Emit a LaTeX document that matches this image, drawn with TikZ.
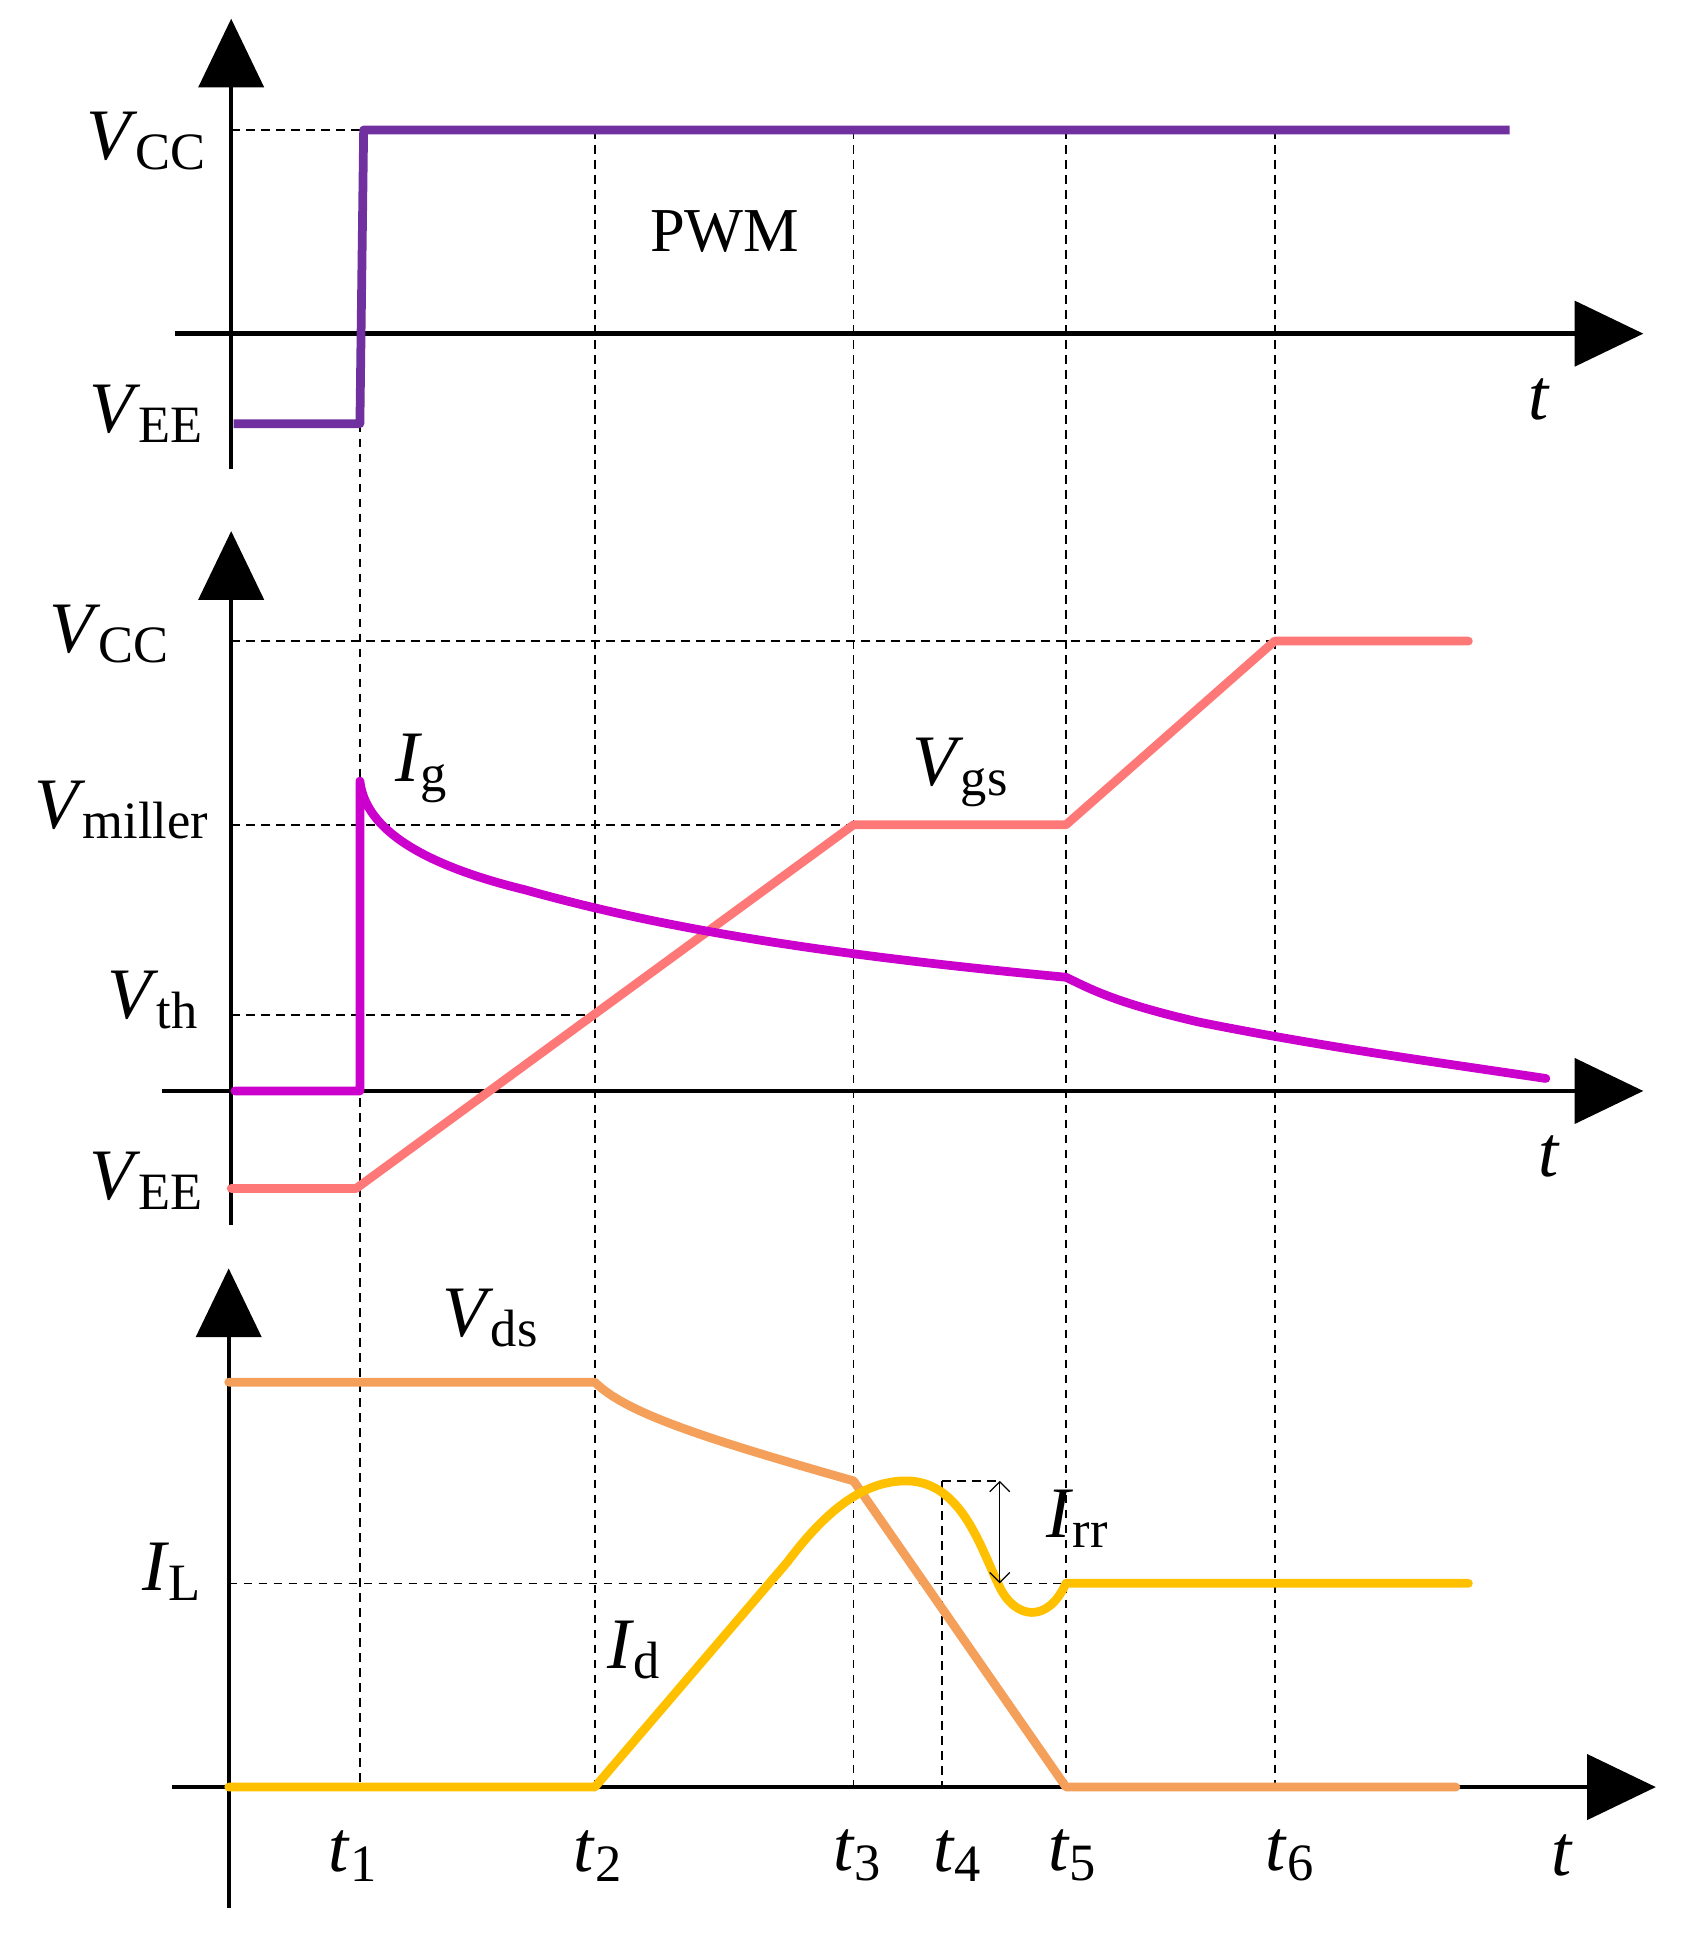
\documentclass[tikz,border=0pt]{standalone}
\usepackage{fontspec}
\setmainfont{Liberation Serif}
\usetikzlibrary{arrows.meta}
\begin{document}
\begin{tikzpicture}[x=1pt,y=-1pt,
  ax/.style={line width=3.5pt,-{Triangle[length=55pt,width=52pt]}},
  dsh/.style={dashed,line width=1.3pt,dash pattern=on 7pt off 5pt},
  wave/.style={line width=7pt,line join=round,line cap=round},
  lb/.style={font=\fontsize{58}{60}\selectfont,inner sep=0pt},
  tl/.style={font=\fontsize{58}{60}\selectfont,inner sep=0pt}]
\definecolor{pwm}{RGB}{112,48,160}
\definecolor{vgs}{RGB}{255,120,120}
\definecolor{ig}{RGB}{204,0,204}
\definecolor{vds}{RGB}{244,160,90}
\definecolor{idc}{RGB}{255,192,0}
\useasboundingbox (0,0) rectangle (1352,1562);
% dashed verticals
\draw[dsh] (288,339) -- (288,1430);
\foreach \x in {476,683,853,1020} \draw[dsh] (\x,104) -- (\x,1430);
\draw[dsh] (754,1185) -- (754,1430);
% panel 1
\draw[dsh] (185,104) -- (290,104);
\draw[ax] (185,375) -- (185,15);
\draw[ax] (140,267) -- (1315,267);
\draw[wave,pwm,line cap=butt] (187,339) -- (288,339) -- (291,104) -- (1208,104);
\node[lb] at (117,113) {\textit{V}\kern-2pt\raisebox{-0.3ex}{\fontsize{42}{44}\selectfont CC}};
\node[lb] at (117,331) {\textit{V}\kern-2pt\raisebox{-0.3ex}{\fontsize{42}{44}\selectfont EE}};
\node[font=\fontsize{50}{52}\selectfont] at (580,185) {PWM};
\node[tl] at (1232,320) {\textit{t}};
% panel 2
\draw[dsh] (185,513) -- (1020,513);
\draw[dsh] (185,660) -- (683,660);
\draw[dsh] (185,812) -- (476,812);
\draw[ax] (185,980) -- (185,425);
\draw[ax] (130,873) -- (1315,873);
\draw[wave,vgs] (185,951) -- (285,951) -- (683,660) -- (853,660) -- (1020,513) -- (1175,513);
\draw[wave,ig] (188,873) -- (288,873) -- (288,625) .. controls (292,660) and (330,690) .. (420,712)
  .. controls (520,740) and (640,762) .. (853,782)
  .. controls (870,790) and (890,802) .. (960,818)
  .. controls (1060,838) and (1150,850) .. (1237,863);
\node[lb] at (87,507) {\textit{V}\kern-2pt\raisebox{-0.3ex}{\fontsize{42}{44}\selectfont CC}};
\node[lb] at (97,648) {\textit{V}\kern-2pt\raisebox{-0.3ex}{\fontsize{42}{44}\selectfont miller}};
\node[lb] at (122,800) {\textit{V}\kern-2pt\raisebox{-0.3ex}{\fontsize{42}{44}\selectfont th}};
\node[lb] at (117,945) {\textit{V}\kern-2pt\raisebox{-0.3ex}{\fontsize{42}{44}\selectfont EE}};
\node[lb] at (337,615) {\textit{I}\kern-1pt\raisebox{-0.3ex}{\fontsize{42}{44}\selectfont g}};
\node[lb] at (768,618) {\textit{V}\kern-2pt\raisebox{-0.3ex}{\fontsize{42}{44}\selectfont gs}};
\node[tl] at (1240,925) {\textit{t}};
% panel 3
\draw[dsh] (183,1267) -- (853,1267);
\draw[dsh] (754,1185) -- (800,1185);
\draw[ax] (183,1527) -- (183,1015);
\draw[ax] (138,1430) -- (1325,1430);
\draw[wave,vds] (183,1106) -- (476,1106) .. controls (500,1130) and (560,1150) .. (683,1185) -- (853,1430) -- (1165,1430);
\draw[wave,idc] (183,1430) -- (476,1430) -- (630,1250) .. controls (660,1210) and (690,1185) .. (725,1185)
  .. controls (770,1185) and (785,1240) .. (800,1270)
  .. controls (812,1295) and (838,1300) .. (853,1267) -- (1175,1267);
\draw[line width=1pt,{Straight Barb[length=8pt]}-{Straight Barb[length=8pt]}] (800,1185) -- (800,1267);
\node[lb] at (137,1258) {\textit{I}\kern-1pt\raisebox{-0.3ex}{\fontsize{42}{44}\selectfont L}};
\node[lb] at (392,1055) {\textit{V}\kern-2pt\raisebox{-0.3ex}{\fontsize{42}{44}\selectfont ds}};
\node[lb] at (507,1320) {\textit{I}\kern-1pt\raisebox{-0.3ex}{\fontsize{42}{44}\selectfont d}};
\node[lb] at (862,1215) {\textit{I}\kern-1pt\raisebox{-0.3ex}{\fontsize{42}{44}\selectfont rr}};
\foreach \x/\n in {282/1,478/2,686/3,766/4,858/5,1032/6}
  \node[tl] at (\x,1485) {\textit{t}\raisebox{-0.3ex}{\fontsize{42}{44}\selectfont\n}};
\node[tl] at (1250,1485) {\textit{t}};
\end{tikzpicture}
\end{document}
